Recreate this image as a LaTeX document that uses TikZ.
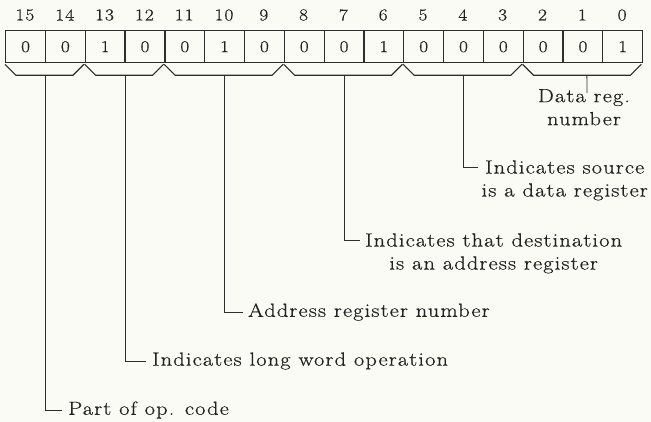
\documentclass[tikz,border=0pt]{standalone}
\usepackage{fontspec}
\setmainfont[FakeStretch=1.18,LetterSpace=6,FakeBold=0.6]{Latin Modern Roman}
\usetikzlibrary{calc}
\definecolor{bgc}{RGB}{251,251,246}
\definecolor{linec}{RGB}{45,45,45}
\definecolor{textc}{RGB}{35,35,35}
\begin{document}
\begin{tikzpicture}[x=1pt,y=-1pt,
  ln/.style={draw=linec, line width=1.1pt},
  cellbox/.style={draw=linec, line width=1.3pt, minimum width=39.8125pt, minimum height=32pt,
    inner sep=0pt, anchor=north west, text=textc, font=\fontsize{16.5}{18}\selectfont},
  bitno/.style={font=\fontsize{16.5}{18}\selectfont, text=textc},
  lbl/.style={font=\fontsize{19}{23}\selectfont, text=textc, inner sep=0pt}
]
\fill[bgc] (0,0) rectangle (651,422);
\useasboundingbox (0,0) rectangle (651,422);
% cells and bit numbers
\foreach \b [count=\k from 0] in {0,0,1,0,0,1,0,0,0,1,0,0,0,0,0,1}{
  \pgfmathtruncatemacro\n{15-\k}
  \node[cellbox] (c\n) at ({5+\k*39.8125},30) {\b};
  \node[bitno] (n\n) at ({5+(\k+0.5)*39.8125},15) {\n};
}
% braces
\foreach \a/\z/\g in {15/14/1,13/12/2,11/9/3,8/6/4,5/3/5,2/0/6}{
  \draw[ln] ($(c\a.south west)+(0,1)$) -- ++(11,11) -- ($(c\z.south east)+(-13,12)$) -- ++(11,-11);
  \coordinate (g\g) at ($(c\a.south west)!0.5!(c\z.south east)+(0,12)$);
}
% labels
\node[lbl, anchor=west] (t1) at (68,410) {Part of op. code};
\node[lbl, anchor=west] (t2) at (152,361) {Indicates long word operation};
\node[lbl, anchor=west] (t3) at (248,312) {Address register number};
\node[lbl, anchor=west] (t4a) at (365,240) {Indicates that destination};
\node[lbl, anchor=base] (t4b) at ([yshift=-23pt]t4a.base) {is an address register};
\node[lbl, anchor=west] (t5a) at (485,167) {Indicates source};
\node[lbl, anchor=base] (t5b) at ([yshift=-23pt]t5a.base) {is a data register};
\node[lbl, anchor=north, align=center] (t6) at (584,89) {Data reg.\\number};
% connectors
\draw[ln, line width=0.9pt] (g1) |- ([xshift=-6pt]t1.west);
\draw[ln, line width=0.9pt] (g2) |- ([xshift=-6pt]t2.west);
\draw[ln, line width=0.9pt] (g3) |- ([xshift=-5pt]t3.west);
\draw[ln, line width=0.9pt] (g4) |- ([xshift=-5pt]t4a.west);
\draw[ln, line width=0.9pt] (g5) |- ([xshift=-7pt]t5a.west);
\draw[ln, line width=0.9pt] ($(g6)+(4,0)$) -- ($(t6.north)+(3,4)$);
\end{tikzpicture}
\end{document}
